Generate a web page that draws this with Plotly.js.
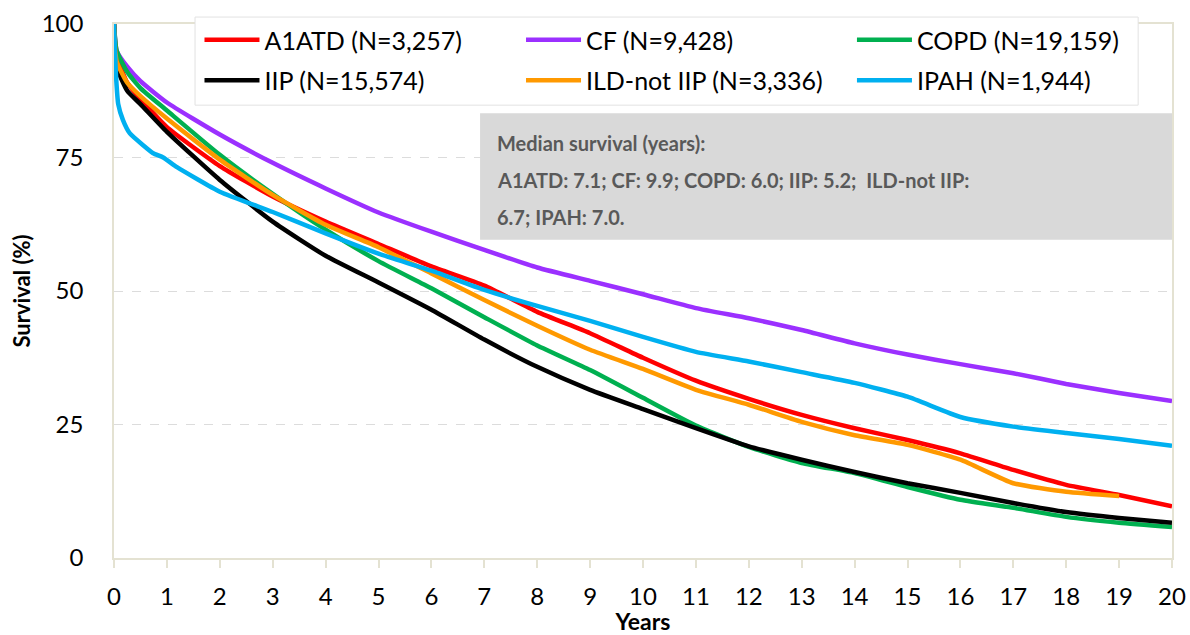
<!DOCTYPE html>
<html>
<head>
<meta charset="utf-8">
<script src="https://cdn.plot.ly/plotly-3.0.1.min.js"></script>
<style>html,body{margin:0;padding:0;background:#fff;}#chart{width:1190px;height:635px;}</style>
</head>
<body>
<div id="chart"></div>
<script>
// Series names and labels
const seriesNames = ["A1ATD (N=3,257)", "CF (N=9,428)", "COPD (N=19,159)", "IIP (N=15,574)", "ILD-not IIP (N=3,336)", "IPAH (N=1,944)"];
const seriesColors = ["#ff0000", "#9b30ff", "#00b050", "#000000", "#ff9900", "#00b0f0"];
const legendColumn = ["legend", "legend2", "legend3", "legend", "legend2", "legend3"];

// Years (x) and survival % (y) per series
const a1atdYears = [0, 0.05, 0.25, 0.5, 1, 2, 3, 4, 5, 6, 7, 8, 9, 10, 11, 12, 13, 14, 15, 16, 17, 18, 19, 20];
const a1atdSurv  = [100, 94, 89, 86, 80.7, 73.4, 67.7, 63, 58.8, 54.6, 51, 46.1, 42.1, 37.5, 33.2, 29.8, 26.8, 24.3, 22.1, 19.6, 16.5, 13.7, 11.8, 9.7];

const cfYears = [0, 0.05, 0.25, 0.5, 1, 2, 3, 4, 5, 6, 7, 8, 9, 10, 11, 12, 13, 14, 15, 16, 17, 18, 19, 20];
const cfSurv  = [100, 95, 92, 89.3, 85.3, 79.3, 74, 69.2, 64.7, 61.1, 57.7, 54.4, 51.9, 49.4, 46.8, 44.9, 42.7, 40.2, 38.1, 36.3, 34.6, 32.6, 30.9, 29.4];

const copdYears = [0, 0.05, 0.25, 0.5, 1, 2, 3, 4, 5, 6, 7, 8, 9, 10, 11, 12, 13, 14, 15, 16, 17, 18, 19, 20];
const copdSurv  = [100, 95, 91, 88, 83.8, 75.5, 68.2, 61.5, 55.6, 50.5, 45.1, 39.8, 35.2, 30, 24.8, 20.8, 17.8, 15.9, 13.3, 10.9, 9.4, 7.7, 6.6, 5.8];

const iipYears = [0, 0.05, 0.25, 0.5, 1, 2, 3, 4, 5, 6, 7, 8, 9, 10, 11, 12, 13, 14, 15, 16, 17, 18, 19, 20];
const iipSurv  = [100, 92, 87.5, 85, 79.8, 70.8, 63, 56.6, 51.6, 46.5, 40.9, 35.8, 31.5, 27.9, 24.3, 20.9, 18.4, 16.1, 14, 12.2, 10.3, 8.6, 7.5, 6.6];

const ildYears = [0, 0.05, 0.25, 0.5, 1, 2, 3, 4, 5, 6, 7, 8, 9, 10, 11, 12, 13, 14, 15, 16, 17, 18, 19];
const ildSurv  = [100, 93, 89, 86.5, 82.3, 74.6, 68, 62.4, 58.2, 53.3, 48.3, 43.5, 39, 35.4, 31.5, 28.7, 25.5, 23, 21.2, 18.4, 14, 12.4, 11.6];

const ipahYears = [0, 0.04, 0.08, 0.17, 0.3, 0.55, 0.74, 0.93, 1.19, 2, 3, 4, 5, 6, 7, 8, 9, 10, 11, 12, 13, 14, 15, 16, 17, 18, 19, 20];
const ipahSurv  = [100, 90, 85, 82, 79.5, 77.3, 75.8, 75, 73.2, 68.6, 64.8, 60.8, 57, 53.8, 50.2, 47.2, 44.4, 41.4, 38.6, 36.8, 34.8, 32.8, 30.2, 26.4, 24.6, 23.4, 22.3, 21];

const xTicks = [0,1,2,3,4,5,6,7,8,9,10,11,12,13,14,15,16,17,18,19,20];
const yTicks = [0, 25, 50, 75, 100];

const medianLines = [
  "<b>Median survival (years):</b>",
  "<b>A1ATD: 7.1; CF: 9.9; COPD: 6.0; IIP: 5.2;  ILD-not IIP:</b>",
  "<b>6.7; IPAH: 7.0.</b>"
];

const xs = [a1atdYears, cfYears, copdYears, iipYears, ildYears, ipahYears];
const ys = [a1atdSurv, cfSurv, copdSurv, iipSurv, ildSurv, ipahSurv];

const traces = seriesNames.map((n, i) => ({
  type: "scatter", mode: "lines", name: n,
  legend: legendColumn[i], legendgroup: "g" + i,
  x: xs[i], y: ys[i],
  line: {color: seriesColors[i], width: 4.5, shape: "spline", smoothing: 0.5}
}));

const FONT = "Lato, 'Open Sans', sans-serif";
const axisLine = "#e4e2d2";
const lineY = [0.777, 0.708, 0.639];

function legendAt(xp) {
  return {
    orientation: "v", x: xp, xanchor: "left", y: 1.013, yanchor: "top",
    bgcolor: "rgba(0,0,0,0)", borderwidth: 0,
    itemwidth: 55, tracegroupgap: 5,
    font: {size: 25, color: "#000000", family: FONT}
  };
}

const layout = {
  width: 1190, height: 635,
  margin: {l: 114, r: 18, t: 24, b: 77},
  paper_bgcolor: "#ffffff", plot_bgcolor: "#ffffff",
  font: {family: FONT, color: "#000000", size: 20},
  showlegend: true,
  legend: legendAt(0.0808),
  legend2: legendAt(0.3847),
  legend3: legendAt(0.6975),
  xaxis: {
    range: [0, 20], tickvals: xTicks, ticktext: xTicks.map(String),
    ticks: "outside", ticklen: 8, tickcolor: axisLine, tickwidth: 1.5,
    showline: true, linecolor: axisLine, linewidth: 1.5, mirror: true,
    showgrid: false, zeroline: false,
    tickfont: {size: 24, color: "#000000"}, ticklabelstandoff: 8,
    title: {text: "<b>Years</b>", font: {size: 23, color: "#000000"}, standoff: 0}
  },
  yaxis: {
    range: [0, 100], tickvals: yTicks, ticktext: yTicks.map(String),
    ticks: "", showline: true, linecolor: axisLine, linewidth: 1.5, mirror: true,
    showgrid: true, gridcolor: "#dcdcdc", griddash: "dash", gridwidth: 1,
    zeroline: false,
    tickfont: {size: 24, color: "#000000"}, ticklabelstandoff: 24,
    title: {text: "<b>Survival (%)</b>", font: {size: 22, color: "#000000"}, standoff: 5}
  },
  shapes: [
    {
      type: "rect", xref: "paper", yref: "paper",
      x0: 0.0766, x1: 0.968, y0: 0.848, y1: 1.013,
      fillcolor: "#ffffff", line: {width: 1, color: "#e2e2e2"}, layer: "above"
    },
    {
      type: "rect", xref: "paper", yref: "paper",
      x0: 0.346, x1: 1.0, y0: 0.596, y1: 0.833,
      fillcolor: "#d9d9d9", line: {width: 0}, layer: "above"
    }
  ],
  annotations: medianLines.map((t, i) => ({
    xref: "paper", yref: "paper", x: 0.360, y: lineY[i], xanchor: "left", yanchor: "middle",
    align: "left", showarrow: false, text: t,
    font: {size: 20, color: "#595959", family: FONT}
  }))
};

Plotly.newPlot("chart", traces, layout, {displayModeBar: false, responsive: false});
</script>
</body>
</html>
